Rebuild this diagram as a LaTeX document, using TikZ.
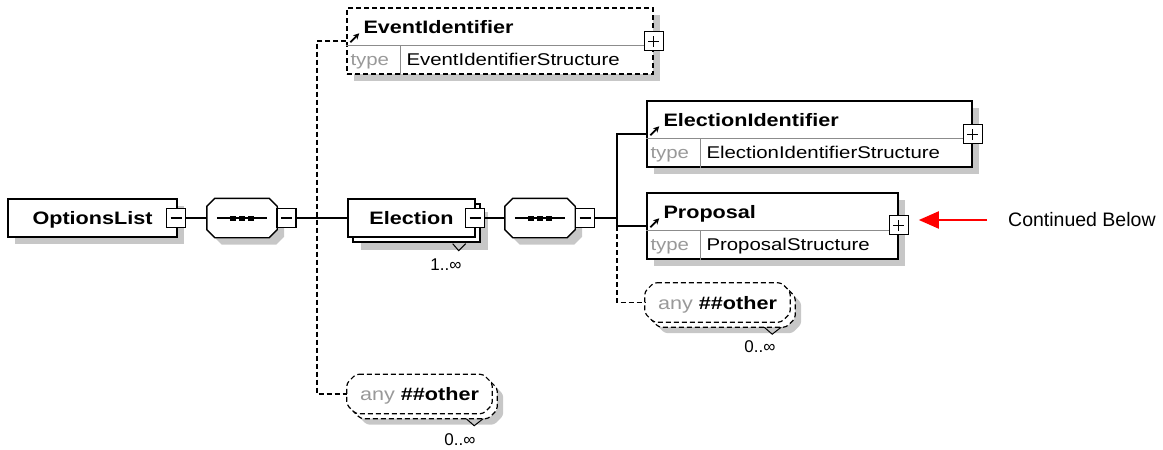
\documentclass[tikz,border=0pt]{standalone}
\usepackage{fontspec}
\setmainfont{Liberation Sans}
\newfontfamily\xsdfont{Liberation Sans}[FakeStretch=1.2]
\usetikzlibrary{calc}
\usetikzlibrary{shadows}
\usetikzlibrary{arrows.meta}

\tikzset{
  namefont/.style={font=\xsdfont\bfseries\fontsize{18}{20}\selectfont},
  typefont/.style={font=\xsdfont\fontsize{17}{20}\selectfont},
  grayshadow/.style={drop shadow={shadow xshift=#1, shadow yshift=-#1, fill=black!22, opacity=1}},
  grayshadow/.default=7pt,
  elembox/.style={draw, fill=white, line width=1.4pt, inner sep=0pt, text depth=0pt, namefont},
  optional/.style={dash pattern=on 5pt off 3pt},
  divline/.style={black!45, line width=1pt},
  pmbox/.style={draw, fill=white, line width=1.2pt, minimum size=19pt, inner sep=0pt},
  minusbox/.style={pmbox, path picture={
      \draw[line width=1.2pt] ([xshift=4pt]path picture bounding box.west) -- ([xshift=-4pt]path picture bounding box.east);}},
  plusbox/.style={pmbox, path picture={
      \draw[line width=1.2pt] ([xshift=4pt]path picture bounding box.west) -- ([xshift=-4pt]path picture bounding box.east);
      \draw[line width=1.2pt] ([yshift=4pt]path picture bounding box.south) -- ([yshift=-4pt]path picture bounding box.north);}},
  seqbox/.style={minimum width=70pt, minimum height=39pt, inner sep=0pt},
  anyspot/.style={minimum width=145pt, minimum height=39pt, inner sep=0pt},
  conn/.style={line width=1.3pt},
  optconn/.style={conn, optional},
  cardtext/.style={font=\fontsize{17}{20}\selectfont, inner sep=0pt},
}

% octagon round a node: node, chamfer, offset
\newcommand\octpath[3]{($(#1.north west)+(#2+#3,#3)$) -- ($(#1.north east)+(#3-#2,#3)$)
  -- ($(#1.north east)+(#3,#3+#2)$) -- ($(#1.south east)+(#3,#3-#2)$)
  -- ($(#1.south east)+(#3-#2,#3)$) -- ($(#1.south west)+(#3+#2,#3)$)
  -- ($(#1.south west)+(#3,#3-#2)$) -- ($(#1.north west)+(#3,#3+#2)$) -- cycle}

\newcommand\seqshape[1]{%
  \fill[black!22] \octpath{#1}{8}{7};
  \draw[fill=white, line width=1.4pt] \octpath{#1}{8}{0};
  \draw[line width=1.2pt] ($(#1.west)+(10,0)$) -- ($(#1.east)+(-10,0)$);
  \foreach \dx in {-9,0,9}
    \fill ($(#1.center)+(\dx-3,-2.5)$) rectangle ($(#1.center)+(\dx+3,2.5)$);
}

\newcommand\anyshape[1]{%
  \fill[black!22, rounded corners=3pt] \octpath{#1}{9}{11};
  \draw[fill=white, line width=1.2pt, optional, rounded corners=3pt] \octpath{#1}{9}{5};
  \draw[fill=white, line width=1.2pt, optional, rounded corners=3pt] \octpath{#1}{9}{0};
}

% name row, type row and reference arrow of a typed element box
\newcommand\typeparts[3]{%
  \draw[divline] ($(#1.north west)+(0,38)$) -- ($(#1.north east)+(0,38)$);
  \draw[divline] ($(#1.south west)+(54,0)$) -- ($(#1.north west)+(54,38)$);
  \draw[line width=1.8pt, -{Stealth[length=6pt,width=6pt]}] ($(#1.north west)+(4,35)$) -- ($(#1.north west)+(13,26)$);
  \node[namefont, anchor=base west, inner sep=0pt] (#1name) at ($(#1.north west)+(17,26)$) {#2};
  \node[typefont, anchor=base west, inner sep=0pt, text=black!40] (#1type) at ($(#1.south west)+(4,-9)$) {type};
  \node[typefont, anchor=base west, inner sep=0pt] (#1struct) at ($(#1.south west)+(60,-9)$) {#3};
}

\begin{document}
\begin{tikzpicture}[x=1pt,y=-1pt]
\useasboundingbox (0,0) rectangle (1163,450);

% root and first sequence
\node[elembox, grayshadow, minimum width=169pt, minimum height=38pt] (opts) at (92.5,218) {OptionsList};
\node[minusbox] (optsminus) at (176,218) {};
\node[seqbox] (seqa) at (242,218) {};
\seqshape{seqa}
\node[minusbox] (seqaminus) at (286.5,218) {};

% Election and its sequence
\node[elembox, grayshadow=13pt,
      copy shadow={shadow xshift=5pt, shadow yshift=-5pt, draw, fill=white, line width=1.4pt},
      minimum width=127pt, minimum height=38pt] (elec) at (411.5,218) {Election\hspace{8pt}};
\node[minusbox] (elecminus) at (475,218) {};
\draw[line width=1pt] ($(elec.south east)+(-23,6)$) -- ($(elec.south east)+(-17,13)$) -- ($(elec.south east)+(-10,6)$);
\node[cardtext] (eleccard) at (446,265) {1..∞};
\node[seqbox] (seqb) at (540,218) {};
\seqshape{seqb}
\node[minusbox] (seqbminus) at (585,218) {};

% typed elements
\node[elembox, optional, grayshadow, minimum width=306pt, minimum height=66pt] (evtid) at (500,41) {};
\typeparts{evtid}{EventIdentifier}{EventIdentifierStructure}
\node[plusbox] (evtidplus) at ($(evtid.north east)+(0,34)$) {};

\node[elembox, grayshadow, minimum width=325pt, minimum height=66pt] (elecid) at (809.5,134) {};
\typeparts{elecid}{ElectionIdentifier}{ElectionIdentifierStructure}
\node[plusbox] (elecidplus) at ($(elecid.north east)+(0,34)$) {};

\node[elembox, grayshadow, minimum width=251pt, minimum height=66pt] (prop) at (772.5,226) {};
\typeparts{prop}{Proposal}{ProposalStructure}
\node[plusbox] (propplus) at ($(prop.north east)+(0,33)$) {};

% wildcards
\node[anyspot] (anyr) at (717.5,302.5) {};
\anyshape{anyr}
\node[namefont, inner sep=0pt, text depth=0pt] (anyrtext) at (anyr) {{\mdseries\color{black!40}any} \#\#other};
\draw[line width=1pt] ($(anyr.south east)+(-26,5)$) -- ($(anyr.south east)+(-18,12)$) -- ($(anyr.south east)+(-9,5)$);
\node[cardtext] (anyrcard) at (760,347) {0..∞};

\node[anyspot] (anyb) at (419.5,394) {};
\anyshape{anyb}
\node[namefont, inner sep=0pt, text depth=0pt] (anybtext) at (anyb) {{\mdseries\color{black!40}any} \#\#other};
\draw[line width=1pt] ($(anyb.south east)+(-26,5)$) -- ($(anyb.south east)+(-18,12)$) -- ($(anyb.south east)+(-9,5)$);
\node[cardtext] (anybcard) at (460,440) {0..∞};

% connectors
\coordinate (ja) at (317,218);
\coordinate (jb) at (617,218);
\draw[conn] (optsminus.east) -- (seqa.west);
\draw[conn] (seqaminus.east) -- (elec.west);
\draw[optconn] (evtid.west) -- (ja |- evtid.west) -- (ja |- anyb.west) -- (anyb.west);
\draw[conn] (elecminus.east) -- (seqb.west);
\draw[conn] (seqbminus.east) -- (jb);
\draw[conn] (elecid.west) -- (jb |- elecid.west) -- (jb |- prop.west) -- (prop.west);
\draw[optconn] (jb |- prop.west) -- (jb |- anyr.west) -- (anyr.west);

% note
\node[font=\fontsize{19.5}{22}\selectfont, anchor=west, inner sep=0pt] (cont) at (1008,220) {Continued Below};
\coordinate (tip) at ($(propplus.east)+(10,0)$);
\draw[line width=2pt, red, -{Triangle[length=20pt,width=17pt]}] ($(cont.west)+(-21,0)$) -- (tip |- cont.west);
\end{tikzpicture}
\end{document}
